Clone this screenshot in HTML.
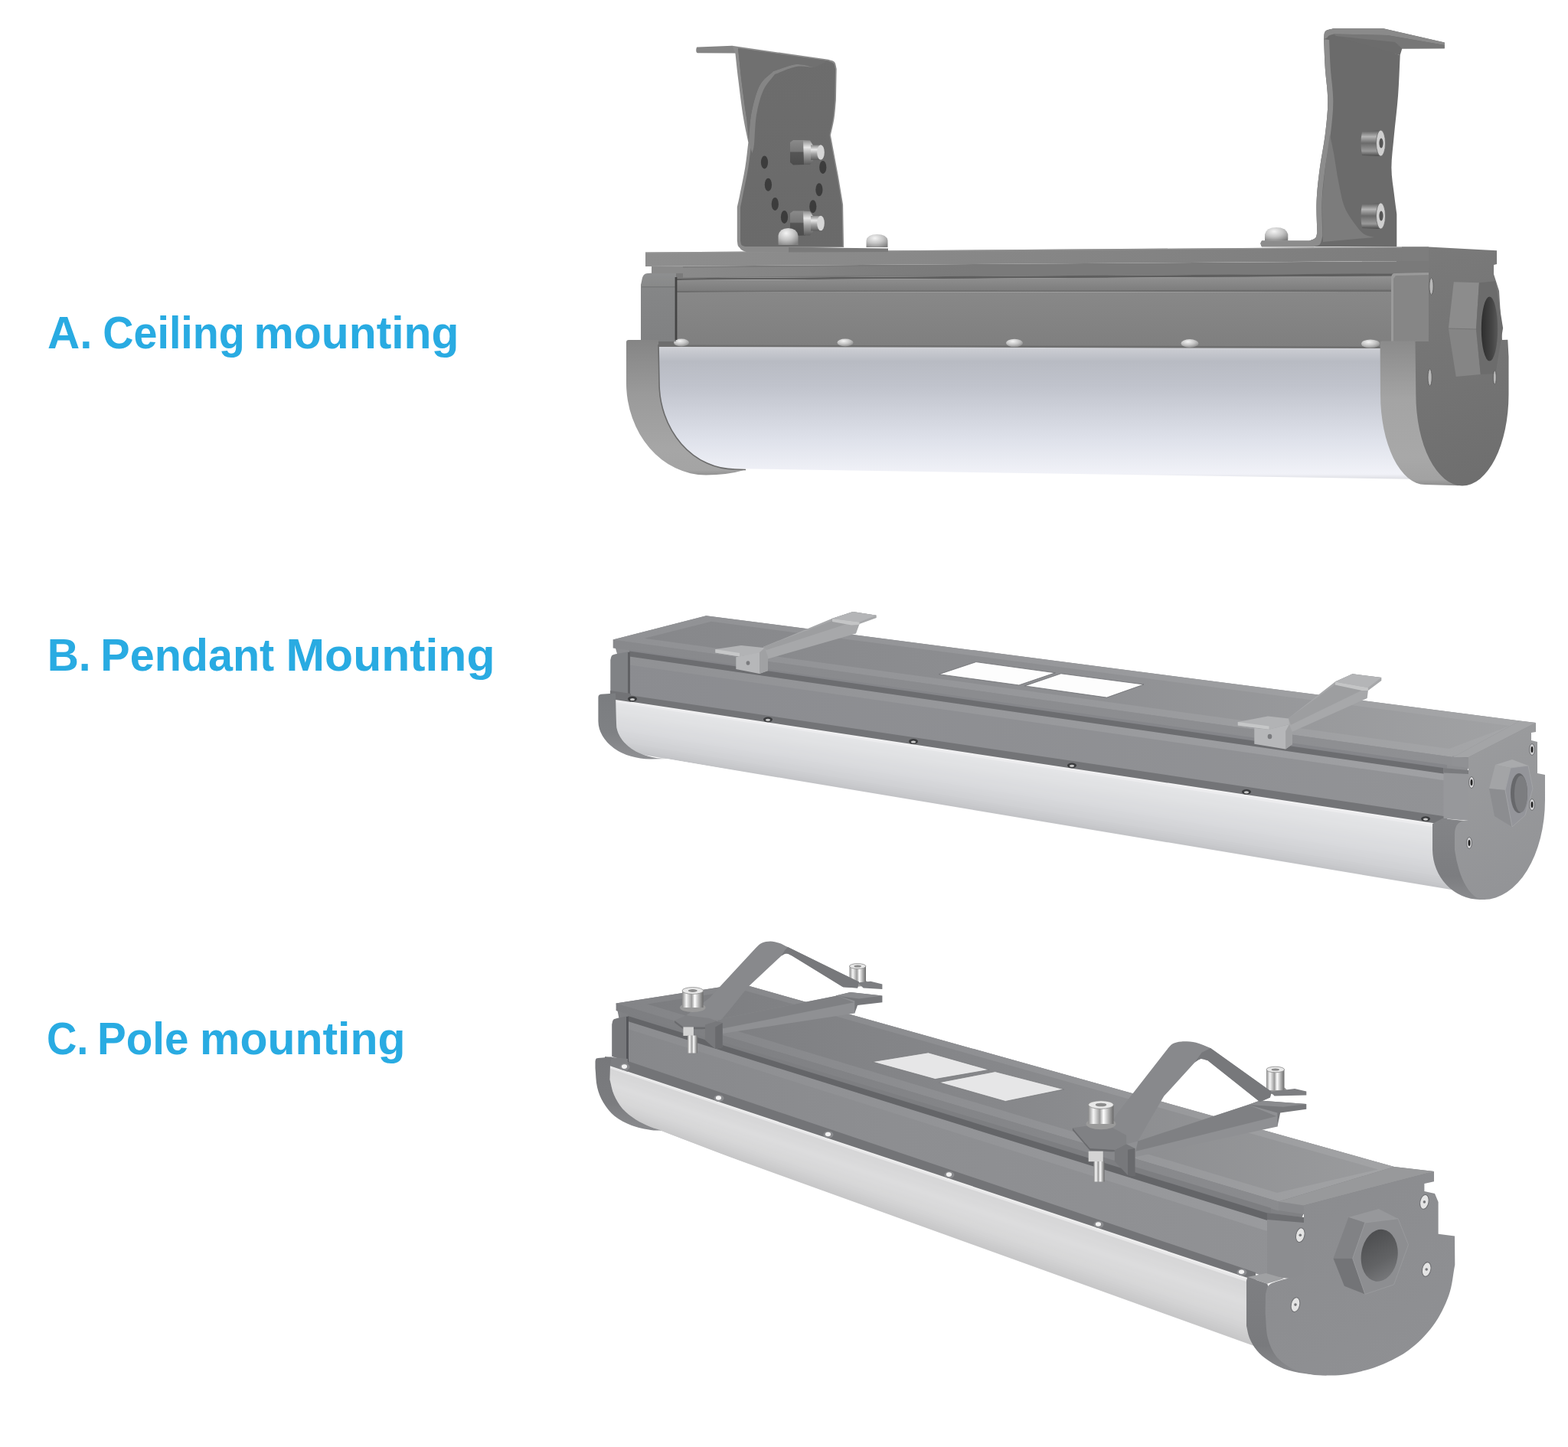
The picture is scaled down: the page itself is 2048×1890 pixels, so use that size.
<!DOCTYPE html>
<html lang="en">
<head>
<meta charset="utf-8">
<title>Mounting options</title>
<style>
html,body{margin:0;padding:0;background:#fff;}
body{width:2048px;height:1890px;overflow:hidden;position:relative;font-family:"Liberation Sans",sans-serif;}
svg{position:absolute;left:0;top:0;display:block;}
.lbl{font-family:"Liberation Sans",sans-serif;font-weight:700;font-size:60px;fill:#29abe2;}
</style>
</head>
<body>
<svg width="2048" height="1890" viewBox="0 0 2048 1890">
<g id="labels">
<text class="lbl" y="454.6"><tspan x="62" textLength="58.5" lengthAdjust="spacingAndGlyphs">A.</tspan> <tspan x="134.3" textLength="185.5" lengthAdjust="spacingAndGlyphs">Ceiling</tspan> <tspan x="331.5" textLength="268" lengthAdjust="spacingAndGlyphs">mounting</tspan></text>
<text class="lbl" y="876.1"><tspan x="61.7" textLength="57" lengthAdjust="spacingAndGlyphs">B.</tspan> <tspan x="131.3" textLength="227" lengthAdjust="spacingAndGlyphs">Pendant</tspan> <tspan x="373.5" textLength="273" lengthAdjust="spacingAndGlyphs">Mounting</tspan></text>
<text class="lbl" y="1376.8"><tspan x="61" textLength="54.5" lengthAdjust="spacingAndGlyphs">C.</tspan> <tspan x="127" textLength="119.5" lengthAdjust="spacingAndGlyphs">Pole</tspan> <tspan x="261" textLength="268.5" lengthAdjust="spacingAndGlyphs">mounting</tspan></text>
</g>
<!-- ================= PRODUCT A : ceiling mounting ================= -->
<g id="prodA">
<defs>
<linearGradient id="aDiff" gradientUnits="userSpaceOnUse" x1="0" y1="451" x2="0" y2="626"><stop offset="0" stop-color="#d6d7db"/><stop offset="0.04" stop-color="#c8cad0"/><stop offset="0.12" stop-color="#b8bbc3"/><stop offset="0.3" stop-color="#c0c3cc"/><stop offset="0.5" stop-color="#cfd2db"/><stop offset="0.7" stop-color="#dee1ea"/><stop offset="0.85" stop-color="#e9ebf2"/><stop offset="0.96" stop-color="#f1f2f8"/><stop offset="1" stop-color="#dcdde2"/></linearGradient>
<linearGradient id="aPlate" gradientUnits="userSpaceOnUse" x1="843" y1="0" x2="1866" y2="0"><stop offset="0" stop-color="#8e8e8e"/><stop offset="0.5" stop-color="#868686"/><stop offset="1" stop-color="#7c7c7c"/></linearGradient>
<linearGradient id="aBody" gradientUnits="userSpaceOnUse" x1="0" y1="381" x2="0" y2="453"><stop offset="0" stop-color="#888888"/><stop offset="1" stop-color="#7f7f7f"/></linearGradient>
<linearGradient id="aRail" gradientUnits="userSpaceOnUse" x1="0" y1="362" x2="0" y2="380"><stop offset="0" stop-color="#909090"/><stop offset="1" stop-color="#7c7c7c"/></linearGradient>
<linearGradient id="aRimL" gradientUnits="userSpaceOnUse" x1="0" y1="444" x2="0" y2="621"><stop offset="0" stop-color="#858585"/><stop offset="0.4" stop-color="#9a9a9a"/><stop offset="0.8" stop-color="#a6a6a6"/><stop offset="0.96" stop-color="#a4a4a4"/><stop offset="1" stop-color="#909090"/></linearGradient>
<linearGradient id="aRimR" gradientUnits="userSpaceOnUse" x1="0" y1="446" x2="0" y2="634"><stop offset="0" stop-color="#8b8b8b"/><stop offset="0.4" stop-color="#a4a4a4"/><stop offset="0.8" stop-color="#a8a8a8"/><stop offset="0.96" stop-color="#a2a2a2"/><stop offset="1" stop-color="#8e8e8e"/></linearGradient>
<linearGradient id="aFace" gradientUnits="userSpaceOnUse" x1="1850" y1="322" x2="1970" y2="634"><stop offset="0" stop-color="#7a7a7a"/><stop offset="1" stop-color="#6e6e6e"/></linearGradient>
<linearGradient id="aEndL" gradientUnits="userSpaceOnUse" x1="0" y1="356" x2="0" y2="446"><stop offset="0" stop-color="#8e8f90"/><stop offset="0.2" stop-color="#888989"/><stop offset="0.22" stop-color="#858687"/><stop offset="1" stop-color="#808182"/></linearGradient>
<linearGradient id="aStrip" gradientUnits="userSpaceOnUse" x1="892" y1="0" x2="1300" y2="0"><stop offset="0" stop-color="#8a8a8a" stop-opacity="1"/><stop offset="0.4" stop-color="#868686" stop-opacity="0.8"/><stop offset="1" stop-color="#7a7a7a" stop-opacity="0"/></linearGradient>
<linearGradient id="aHole" gradientUnits="userSpaceOnUse" x1="1935" y1="0" x2="1957" y2="0"><stop offset="0" stop-color="#2e2e2e"/><stop offset="0.6" stop-color="#444"/><stop offset="1" stop-color="#5a5a5a"/></linearGradient>
<linearGradient id="aBrk" gradientUnits="userSpaceOnUse" x1="0" y1="60" x2="0" y2="325"><stop offset="0" stop-color="#6d6d6d"/><stop offset="1" stop-color="#6a6a6a"/></linearGradient>
<linearGradient id="steelV" x1="0" y1="0" x2="0" y2="1"><stop offset="0" stop-color="#8a8a8a"/><stop offset="0.3" stop-color="#e8e8e8"/><stop offset="0.6" stop-color="#a0a0a0"/><stop offset="1" stop-color="#5c5c5c"/></linearGradient>
<linearGradient id="nutV" x1="0" y1="0" x2="0" y2="1"><stop offset="0" stop-color="#8a8a8a"/><stop offset="0.45" stop-color="#777"/><stop offset="0.5" stop-color="#555"/><stop offset="1" stop-color="#4c4c4c"/></linearGradient>
<radialGradient id="dome" cx="0.4" cy="0.3" r="0.8"><stop offset="0" stop-color="#f4f4f4"/><stop offset="0.5" stop-color="#c4c4c4"/><stop offset="1" stop-color="#808080"/></radialGradient>
<linearGradient id="sockV" x1="0" y1="0" x2="0" y2="1"><stop offset="0" stop-color="#5a5a5a"/><stop offset="0.25" stop-color="#b4b4b4"/><stop offset="0.5" stop-color="#6a6a6a"/><stop offset="0.8" stop-color="#9a9a9a"/><stop offset="1" stop-color="#4a4a4a"/></linearGradient>
</defs>
<path d="M850,451 L1812,453 L1860,626 L920,611.5 L850,580 L850,451 Z" fill="url(#aDiff)" />
<path d="M843,329.6 L1831,322.4 L1866,322.4 L1866,341 L1831,341 L843,348 L843,329.6 Z" fill="url(#aPlate)" />
<path d="M843,329.6 L1866,322.4 L1866,323.6 L843,330.8 L843,329.6 Z" fill="#9a9a9a" opacity="0.7"/>
<path d="M851,348 L1866,341 L1866,357.5 L851,363.5 L851,348 Z" fill="#7a7a7a" />
<path d="M892,349.5 L1300,347 L1300,357.5 L892,362.5 L892,349.5 Z" fill="url(#aStrip)" />
<path d="M884,363.3 L1820,357.3 L1820,361 L884,366 L884,363.3 Z" fill="#5e5e5e" />
<path d="M884,366 L1820,360.5 L1820,379.5 L884,380.5 L884,366 Z" fill="url(#aRail)" />
<path d="M884,380 L1820,378.5 L1820,381 L884,382 L884,380 Z" fill="#6c6c6c" />
<path d="M884,382 L1820,381 L1820,454 L884,452 L884,382 Z" fill="url(#aBody)" />
<path d="M884,450.5 L1820,452.5 L1810,455 L884,453 L884,450.5 Z" fill="#6f6f6f" />
<path d="M858,443.5 L886,443.5 L886,453 L858,453 L858,443.5 Z" fill="#6e6e6e" />
<g fill="url(#dome)">
<ellipse cx="890" cy="447.5" rx="10" ry="5"/>
<ellipse cx="1104" cy="447.5" rx="10.5" ry="5"/>
<ellipse cx="1325" cy="448" rx="11" ry="5.2"/>
<ellipse cx="1554" cy="448.5" rx="11.5" ry="5.4"/>
<ellipse cx="1790" cy="449" rx="12" ry="5.6"/>
</g>
<path d="M883,356 L852,356.5 C848.3,357.3 843.5,356.4 841,359 C838.5,361.6 838.3,367.7 837,372 L837,446 L883,446 L883,356 Z" fill="url(#aEndL)" />
<path d="M838,374 L882,374 L882,375.5 L838,375.5 L838,374 Z" fill="#777879" />
<path d="M851,348 L892,348 L892,357 L851,357 L851,348 Z" fill="#8a8a8a" />
<path d="M881.6,362 L884.4,362 L884.4,444 L881.6,444 L881.6,362 Z" fill="#444444" />
<path d="M818,447 Q818,444 821,444 L860,444 L861,500 A99,113 0 0 0 960,613 L974,613.5 Q950,620.5 922,620.5 A104,120.5 0 0 1 818,500 Z" fill="url(#aRimL)"/>
<path d="M860,450 L861,500 A99,113 0 0 0 960,613 L974,613.5" fill="none" stroke="#6b6b6b" stroke-width="1.6"/>
<path d="M1831,322.4 L1866,322.4 L1866,341 L1831,341 L1831,322.4 Z" fill="#7d7d7d" />
<path d="M1824,341 L1866,341 L1866,358 L1824,357 L1824,341 Z" fill="#7a7a7a" />
<path d="M1817,362 C1817.7,360.7 1818,358.8 1819,358 C1820,357.2 1821.7,357.3 1823,357 L1869,356 L1869,446 L1817,446 L1817,362 Z" fill="#868686" />
<path d="M1817,362 C1817.7,360.7 1818,358.8 1819,358 C1820,357.2 1821.7,357.3 1823,357 L1869,356 L1869,359 L1823,360 L1820,364 L1820,446 L1817,446 L1817,362 Z" fill="#9a9a9a" />
<path d="M1802.6,448 Q1802.6,445.5 1805,445.5 L1850,445.5 L1850,515 L1880,600 L1905,634.3 L1861,633 A58,118 0 0 1 1803,515 Z" fill="url(#aRimR)"/>
<path d="M1866,322.4 L1955,327.3 L1955,345 L1951,346 L1951,358 L1958,380 L1962,444 L1969.3,443.7 L1970.5,466 L1970.5,515 A60.6,119.5 0 0 1 1849.3,515 L1848.5,446 L1866,446 Z" fill="url(#aFace)"/>
<path d="M1898.8,368.2 L1931.9,369.2 L1928,429.6 L1891.9,428.6 L1898.8,368.2 Z" fill="#8c8c8c" />
<path d="M1891.9,429.6 L1928,430.6 L1933.8,489 L1901.7,491.9 L1891.9,429.6 Z" fill="#858585" />
<path d="M1931.9,369.2 L1953.3,367.2 L1963.1,428.6 L1953.3,488 L1933.8,489 L1928,429.6 L1931.9,369.2 Z" fill="#6c6c6c" />
<ellipse cx="1945.5" cy="429.6" rx="10.7" ry="42" fill="url(#aHole)"/>
<g fill="#b8b8b8" stroke="#555" stroke-width="0.8"><ellipse cx="1869.5" cy="374" rx="2.6" ry="11"/><ellipse cx="1867.6" cy="493" rx="2.6" ry="11"/><ellipse cx="1952.3" cy="493" rx="2" ry="9"/></g>
<path d="M909.2,65 C909.5,64 909.5,62.6 910,62 C910.5,61.4 911.3,61.7 912,61.6 L956.3,59.8 L964,64 L961,69.6 L911,69.3 C910.5,68.9 909.9,68.7 909.6,68 C909.3,67.3 909.3,66 909.2,65 Z" fill="#858585" />
<path d="M956.3,59.8 L1082,77.8 C1084.7,78.9 1088.2,79 1090,81 C1091.8,83 1091.8,87 1092.7,90 L1091.9,130.9 C1091.1,138.9 1090.7,147.4 1089.5,155 C1088.3,162.6 1086.4,169.3 1084.9,176.4 C1088,193.2 1091.6,211.5 1094.3,226.7 C1097,241.8 1098.8,253.8 1101.1,267.3 L1102.1,323 L971,326 C968.8,324.7 965.9,323.9 964.5,322 C963.1,320.1 963.4,316.9 962.8,314.4 L962.8,270.5 C963.9,265.6 964.2,264.6 966,255.9 C967.8,247.2 971.4,230.2 973.3,218.6 C975.2,207 976,196.9 977.4,186.1 C975.2,175.3 973.1,167.1 970.9,153.6 C968.7,140.1 966.1,118.9 964.4,104.9 C962.6,90.9 961.7,81.3 960.4,69.5 L956.3,59.8 Z" fill="#8c8c8c" />
<path d="M964,63 L1082,79.5 C1084.3,80.7 1087.5,81.2 1089,83 C1090.5,84.8 1090.3,87.7 1091,90 L1090.4,130.9 C1089.6,138.9 1089.2,147.4 1088,155 C1086.8,162.6 1084.9,169.3 1083.4,176.4 C1086.5,193.2 1090.1,211.5 1092.8,226.7 C1095.5,241.8 1097.3,253.8 1099.6,267.3 L1100.6,322 L973,322 C971.5,321.3 969.5,321.3 968.5,320 C967.5,318.7 967.5,316.3 967,314.4 L967,271 C968,266 968.3,264.7 970,256 C971.7,247.3 975.4,230.7 977.3,219 C979.2,207.3 980,197.1 981.4,186.1 C979.3,175.3 977.2,167.1 975,153.6 C972.8,140.1 970.2,120 968.4,104.9 C966.6,89.8 965.5,77 964,63 Z" fill="url(#aBrk)" />
<path d="M978,186 C979,174 978.7,162.3 981,150 C983.3,137.7 987.2,121.5 992,112 C996.8,102.5 1004,99.3 1010,93 C1020,90 1031,84.8 1040,84 C1049,83.2 1056,86.7 1064,88 C1056,87.7 1048.7,85.5 1040,87 C1031.3,88.5 1021.3,93.7 1012,97 C1007,104 1001,109.2 997,118 C993,126.8 990,138.3 988,150 C986,161.7 985.9,179.7 985,188 C984.1,196.3 983.3,196 982.5,200 L978,186 Z" fill="#858585" />
<path d="M964,63 L1082,79.5 L1064,88 C1056,86.7 1049,83.2 1040,84 C1031,84.8 1020,90 1010,93 C1004,99.3 996.8,102.5 992,112 C987.2,121.5 983.3,137.7 981,150 C978.7,162.3 979,174 978,186 L975,153.6 L968.4,104.9 L964,63 Z" fill="#707070" />
<path d="M971,322 L1032,322 C1032.7,323 1034.3,323.8 1034,325 C1033.7,326.2 1031.3,328 1030,329.5 L976,329.5 C973.3,328.3 969.8,327.6 968,326 C966.2,324.4 966,322 965,320 L971,322 Z" fill="#8a8a8a" />
<path d="M1030,323 L1160,324.5 L1160,329 L1030,329.5 L1030,323 Z" fill="#7a7a7a" />
<g fill="#3c3c3c">
<ellipse cx="998.5" cy="212" rx="4.6" ry="8.5"/>
<ellipse cx="1003.4" cy="241.3" rx="4.6" ry="8.5"/>
<ellipse cx="1012.3" cy="266.5" rx="4.6" ry="8.5"/>
<ellipse cx="1024.5" cy="283.5" rx="4.6" ry="8.5"/>
<ellipse cx="1074.8" cy="218.6" rx="4.6" ry="8.5"/>
<ellipse cx="1069.9" cy="247.8" rx="4.6" ry="8.5"/>
<ellipse cx="1061.8" cy="269.7" rx="4.6" ry="8.5"/>
</g>
<g transform="translate(0,0)">
<path d="M1032,186 L1036,183 L1050,183 L1052,215 L1036,215.5 L1032,212 Z" fill="url(#nutV)"/>
<path d="M1049,183 L1058,183.5 L1062,190 L1062,210 L1058,215 L1050,215 Z" fill="url(#steelV)"/>
<rect x="1059" y="189.5" width="14" height="19.5" fill="url(#steelV)"/>
<ellipse cx="1072" cy="199" rx="4.8" ry="9.8" fill="#d6d6d6"/>
</g>
<g transform="translate(0,92.5)">
<path d="M1032,186 L1036,183 L1050,183 L1052,215 L1036,215.5 L1032,212 Z" fill="url(#nutV)"/>
<path d="M1049,183 L1058,183.5 L1062,190 L1062,210 L1058,215 L1050,215 Z" fill="url(#steelV)"/>
<rect x="1059" y="189.5" width="14" height="19.5" fill="url(#steelV)"/>
<ellipse cx="1072" cy="199" rx="4.8" ry="9.8" fill="#d6d6d6"/>
</g>
<path d="M1016.5,320 L1016.5,308 Q1018,298 1029.5,298 Q1041,298 1042.5,308 L1042.5,320 Z" fill="url(#dome)"/>
<path d="M1131.5,323 L1131.5,314 Q1133,306 1145.5,306 Q1158,306 1159.5,314 L1159.5,323 Z" fill="url(#dome)"/>
<path d="M1729.1,51.2 C1729.7,47.8 1729,43.3 1731,41 C1733,38.7 1737.8,38.5 1741.2,37.3 L1807,37.3 L1886.7,55.5 L1886.7,63.3 L1831.3,63.6 L1828.7,72 L1729.1,51.2 Z" fill="#6c6c6c" />
<path d="M1741.2,37.3 L1807,37.3 L1886.7,55.5 L1886.7,59 L1812,46 L1742,44.5 C1739.7,45.3 1736.5,45.8 1735,47 C1733.5,48.2 1733.7,50.3 1733,52 L1729.1,51.2 C1729.7,47.8 1729,43.3 1731,41 C1733,38.7 1737.8,38.5 1741.2,37.3 Z" fill="#8a8a8a" />
<path d="M1742,44.5 L1812,46 L1886.7,59 L1886.7,63.3 L1831.3,63.6 L1822,55 L1745,47 L1742,44.5 Z" fill="#777" />
<path d="M1729.1,51.2 C1729.7,63.9 1729.9,75.7 1730.8,89.3 C1731.7,102.9 1734.3,118.2 1734.3,132.6 C1734.3,147 1732.5,161.4 1730.8,175.8 C1729.1,190.2 1725.8,204.7 1723.9,219.1 C1722,233.5 1720.2,248.2 1719.6,262.4 C1719,276.5 1720.1,290.1 1720.4,304 C1719.6,306.3 1719.7,309.3 1718,311 C1716.3,312.7 1712.7,313.3 1710,314.4 L1648,314.4 C1647.5,315.6 1646.5,316.7 1646.5,318 C1646.5,319.3 1647.5,320.8 1648,322.2 L1824.3,322.2 L1824.3,279.7 C1823.2,271.1 1822.1,263.9 1820.9,253.8 C1819.8,243.7 1817.4,232.1 1817.4,219.1 C1817.4,206.1 1819.5,191.7 1820.9,175.8 C1822.4,159.9 1824.8,141.2 1826.1,123.9 C1827.4,106.6 1827.8,89.3 1828.7,72 L1740,46 L1729.1,51.2 Z" fill="#6b6b6b" />
<path d="M1729.1,51.2 C1729.7,63.9 1729.9,75.7 1730.8,89.3 C1731.7,102.9 1734.3,118.2 1734.3,132.6 C1734.3,147 1732.5,161.4 1730.8,175.8 C1729.1,190.2 1725.8,204.7 1723.9,219.1 C1722,233.5 1720.2,248.2 1719.6,262.4 C1719,276.5 1720.1,290.1 1720.4,304 C1719.6,306.3 1719.7,309.3 1718,311 C1716.3,312.7 1712.7,313.3 1710,314.4 L1648,314.4 C1647.5,315.6 1646.5,316.7 1646.5,318 C1646.5,319.3 1647.5,320.8 1648,322.2 L1716,322.2 C1718.7,321.1 1722.1,321.4 1724,319 C1725.9,316.6 1726.3,311.7 1727.4,308 C1727.1,292.8 1726,277.2 1726.6,262.4 C1727.2,247.6 1729,233.5 1730.9,219.1 C1732.8,204.7 1736.1,190.2 1737.8,175.8 C1739.5,161.4 1741.3,147 1741.3,132.6 C1741.3,118.2 1738.7,102.7 1737.8,89.3 C1736.9,75.9 1736.6,64.4 1736,52 L1729.1,51.2 Z" fill="#8c8c8c" />
<path d="M1737,176 C1738.7,184 1740.2,190 1742,200 C1743.8,210 1745.7,224.3 1748,236 C1750.3,247.7 1752.3,260.5 1756,270 C1759.7,279.5 1765.7,287 1770,293 C1774.3,299 1777.8,303.2 1782,306 C1786.2,308.8 1790.7,308.7 1795,310 L1728,316 L1726.6,262.4 L1730.9,219.1 L1737,176 Z" fill="#7c7c7c" />
<g transform="translate(0,0)">
<path d="M1779,172 Q1776,187 1779,203 L1803,204 L1803,170 Z" fill="url(#sockV)"/>
<ellipse cx="1803.5" cy="187" rx="6" ry="17" fill="#cfcfcf" stroke="#6a6a6a" stroke-width="0.8"/>
<ellipse cx="1804" cy="187" rx="2.6" ry="6.5" fill="#555"/>
</g>
<g transform="translate(0,95)">
<path d="M1779,172 Q1776,187 1779,203 L1803,204 L1803,170 Z" fill="url(#sockV)"/>
<ellipse cx="1803.5" cy="187" rx="6" ry="17" fill="#cfcfcf" stroke="#6a6a6a" stroke-width="0.8"/>
<ellipse cx="1804" cy="187" rx="2.6" ry="6.5" fill="#555"/>
</g>
<path d="M1652,314.5 L1652,306 Q1654,297 1667,297 Q1680,297 1682.3,306 L1682.3,314.5 Z" fill="url(#dome)"/>
</g>
<!-- ================= PRODUCT B : pendant mounting ================= -->
<g id="prodB">
<defs>
<linearGradient id="bTop" gradientUnits="userSpaceOnUse" x1="800" y1="0" x2="2000" y2="0"><stop offset="0" stop-color="#86878a"/><stop offset="0.5" stop-color="#8e8f92"/><stop offset="1" stop-color="#a2a3a5"/></linearGradient>
<linearGradient id="bFrame" gradientUnits="userSpaceOnUse" x1="800" y1="0" x2="2000" y2="0"><stop offset="0" stop-color="#909194"/><stop offset="0.5" stop-color="#97989b"/><stop offset="1" stop-color="#a6a7a9"/></linearGradient>
<linearGradient id="bFront" gradientUnits="userSpaceOnUse" x1="800" y1="0" x2="1900" y2="0"><stop offset="0" stop-color="#88898c"/><stop offset="1" stop-color="#8f9093"/></linearGradient>
<linearGradient id="bRail" gradientUnits="userSpaceOnUse" x1="800" y1="0" x2="1900" y2="0"><stop offset="0" stop-color="#909194"/><stop offset="1" stop-color="#a0a1a4"/></linearGradient>
<linearGradient id="bBody" gradientUnits="userSpaceOnUse" x1="800" y1="0" x2="1900" y2="0"><stop offset="0" stop-color="#8b8c90"/><stop offset="1" stop-color="#929396"/></linearGradient>
<linearGradient id="bDiff" gradientUnits="userSpaceOnUse" x1="1300" y1="986" x2="1287" y2="1064"><stop offset="0" stop-color="#e9eaeb"/><stop offset="0.08" stop-color="#f2f2f3"/><stop offset="0.16" stop-color="#dcdde0"/><stop offset="0.4" stop-color="#d3d4d7"/><stop offset="0.65" stop-color="#dddee0"/><stop offset="0.85" stop-color="#ebebed"/><stop offset="1" stop-color="#f6f6f7"/></linearGradient>
<linearGradient id="bRimL" gradientUnits="userSpaceOnUse" x1="0" y1="907" x2="0" y2="992"><stop offset="0" stop-color="#7b7d80"/><stop offset="0.6" stop-color="#7f8184"/><stop offset="1" stop-color="#909194"/></linearGradient>
<linearGradient id="bFaceR" gradientUnits="userSpaceOnUse" x1="1900" y1="950" x2="2010" y2="1170"><stop offset="0" stop-color="#9b9c9e"/><stop offset="1" stop-color="#929396"/></linearGradient>
<linearGradient id="bRimR" gradientUnits="userSpaceOnUse" x1="0" y1="1072" x2="0" y2="1175"><stop offset="0" stop-color="#838487"/><stop offset="0.7" stop-color="#7c7d80"/><stop offset="1" stop-color="#8a8b8e"/></linearGradient>
</defs>
<clipPath id="bDiffClip"><path d="M804,908 L1900,1074 L1900,1172 L871,991 A66,46 0 0 1 805,945 Z"/></clipPath>
<g clip-path="url(#bDiffClip)">
<path d="M800,912.1 L1897,1077.9 L1897,1081.8 L800,915.4 Z" fill="#f2f2f3"/>
<path d="M800,914.5 L1897,1080.9 L1897,1084.9 L800,917.8 Z" fill="#ececee"/>
<path d="M800,916.9 L1897,1084 L1897,1087.9 L800,920.2 Z" fill="#e4e5e7"/>
<path d="M800,919.3 L1897,1087 L1897,1090.9 L800,922.6 Z" fill="#e3e4e6"/>
<path d="M800,921.7 L1897,1090 L1897,1093.9 L800,925 Z" fill="#e2e3e5"/>
<path d="M800,924.1 L1897,1093 L1897,1096.9 L800,927.4 Z" fill="#e1e2e4"/>
<path d="M800,926.5 L1897,1096 L1897,1099.9 L800,929.8 Z" fill="#e1e2e4"/>
<path d="M800,928.9 L1897,1099 L1897,1102.9 L800,932.2 Z" fill="#e0e1e3"/>
<path d="M800,931.3 L1897,1102 L1897,1106 L800,934.6 Z" fill="#dfe0e2"/>
<path d="M800,933.7 L1897,1105.1 L1897,1109 L800,937 Z" fill="#dedfe1"/>
<path d="M800,936.1 L1897,1108.1 L1897,1112 L800,939.4 Z" fill="#dddee0"/>
<path d="M800,938.5 L1897,1111.1 L1897,1115 L800,941.8 Z" fill="#dcdde0"/>
<path d="M800,940.9 L1897,1114.1 L1897,1118 L800,944.2 Z" fill="#dbdcdf"/>
<path d="M800,943.3 L1897,1117.1 L1897,1121 L800,946.6 Z" fill="#dbdcde"/>
<path d="M800,945.7 L1897,1120.1 L1897,1124 L800,949 Z" fill="#dadbde"/>
<path d="M800,948.1 L1897,1123.1 L1897,1127.1 L800,951.4 Z" fill="#d9dadd"/>
<path d="M800,950.5 L1897,1126.2 L1897,1130.1 L800,953.8 Z" fill="#d8d9dc"/>
<path d="M800,952.9 L1897,1129.2 L1897,1133.1 L800,956.2 Z" fill="#d6d7da"/>
<path d="M800,955.3 L1897,1132.2 L1897,1136.1 L800,958.6 Z" fill="#d5d6d9"/>
<path d="M800,957.7 L1897,1135.2 L1897,1139.1 L800,961 Z" fill="#d4d5d8"/>
<path d="M800,960.1 L1897,1138.2 L1897,1142.1 L800,963.4 Z" fill="#d2d3d6"/>
<path d="M800,962.5 L1897,1141.2 L1897,1145.2 L800,965.8 Z" fill="#d1d2d5"/>
<path d="M800,964.9 L1897,1144.3 L1897,1148.2 L800,968.2 Z" fill="#d0d1d4"/>
<path d="M800,967.3 L1897,1147.3 L1897,1151.2 L800,970.6 Z" fill="#cdced1"/>
<path d="M800,969.7 L1897,1150.3 L1897,1154.2 L800,973 Z" fill="#cbcccf"/>
<path d="M800,972.1 L1897,1153.3 L1897,1157.2 L800,975.4 Z" fill="#c9cacd"/>
<path d="M800,974.5 L1897,1156.3 L1897,1160.2 L800,977.8 Z" fill="#c6c7ca"/>
<path d="M800,976.9 L1897,1159.3 L1897,1162.3 L800,979.3 Z" fill="#c3c4c7"/>
</g>
<path d="M800.7,835.5 L922.3,804.2 L1985,941.5 L2006,944 L1918,1003 L1890,1070 L822,910 L800.7,835.5 Z" fill="#8c8d90" />
<path d="M800.7,835.5 L922.3,804.2 L1985,941.5 L1898,989 L800.7,835.5 Z" fill="url(#bFrame)" />
<path d="M841.6,833.8 L929,811.8 L1972,948 L1893,978 L841.6,833.8 Z" fill="url(#bTop)" />
<path d="M800.7,835.5 L1898,989 L1898,1000.8 L800.7,846.5 L800.7,835.5 Z" fill="url(#bFront)" />
<path d="M822,848.7 L1890,998.9 L1890,1004.5 L822,851.3 L822,848.7 Z" fill="#85868a" />
<path d="M822,850.5 L1890,1003.7 L1890,1012 L822,858.3 L822,850.5 Z" fill="#6c6d70" />
<path d="M822,857.5 L1890,1011.2 L1890,1020.5 L822,869.3 L822,857.5 Z" fill="url(#bRail)" />
<path d="M822,868.5 L1890,1019.7 L1890,1067.5 L822,908.8 L822,868.5 Z" fill="url(#bBody)" />
<path d="M822,908 L1890,1066.7 L1890,1077.7 L822,916.2 L822,908 Z" fill="#737477" />
<path d="M797.3,862 C797.9,860.2 798,857.8 799,856.5 C800,855.2 801.7,855.2 803,854.5 L822,851 L822,907 L797.3,904 L797.3,862 Z" fill="#808285" />
<path d="M820,852 L823,852 L823,908 L820,908 L820,852 Z" fill="#606164" />
<path d="M797,902 L824,906 L824,917 L804,914 L797,910 L797,902 Z" fill="#727376" />
<path d="M781.4,911 Q781.4,907 785,906.7 L804,905.5 L805,945 A66,46 0 0 0 871,991 L850,991.5 A68,50 0 0 1 781.4,942 Z" fill="url(#bRimL)"/>
<path d="M1897,987.5 L1918,990.5 L1918,1003 L1897,1000.5 L1897,987.5 Z" fill="#909194" />
<path d="M1885.5,1003 L1918,1006 L1918,1072 L1885.5,1069 L1885.5,1003 Z" fill="#97989b" />
<path d="M1885.5,1003 L1918,1006 L1918,1011 L1885.5,1009.5 L1885.5,1003 Z" fill="#7a7b7e" />
<path d="M1898,989 L1985,941.5 L2006,944 L1918,989 L1898,989 Z" fill="#a4a5a7" />
<path d="M1871,1076 L1871,1110 A62,66 0 0 0 1933,1175 L1940,1175 L1912,1072 L1884,1069 Z" fill="url(#bRimR)"/>
<path d="M1918,989 L2006,944 L2006,956 L2000,957 L2000,967 L2008,969 L2008,1010 L2018,1012 L2018,1045 A80,130 0 0 1 1938,1175 A40,95 0 0 1 1900,1110 L1900,1090 Q1900,1074 1912,1072 L1918,1072 Z" fill="url(#bFaceR)"/>
<path d="M1953,999 L1975,992 L1996,1000 L1973,1003 L1953,999 Z" fill="#a9aaac" />
<path d="M1953,999 L1973,1003 L1966,1032 L1945,1030 L1953,999 Z" fill="#a3a4a6" />
<path d="M1945,1030 L1966,1032 L1975,1080 L1952,1066 L1945,1030 Z" fill="#8c8d90" />
<path d="M1973,1003 L1996,1000 L2002,1030 L1992,1065 L1975,1080 L1966,1032 L1973,1003 Z" fill="#94959a" stroke="#a6a7a9" stroke-width="0.8"/>
<ellipse cx="1984" cy="1036" rx="11" ry="26" fill="#67686b"/>
<ellipse cx="1986.5" cy="1037" rx="8.5" ry="24" fill="#7c7d80"/>
<ellipse cx="1922" cy="1022" rx="3.4" ry="7.5" fill="#d2d2d4" stroke="#5c5d60" stroke-width="0.8"/><ellipse cx="1922" cy="1022" rx="1.5" ry="4" fill="#222"/>
<ellipse cx="2001" cy="979" rx="3.4" ry="7.5" fill="#d2d2d4" stroke="#5c5d60" stroke-width="0.8"/><ellipse cx="2001" cy="979" rx="1.5" ry="4" fill="#222"/>
<ellipse cx="2001" cy="1051" rx="3.4" ry="7.5" fill="#d2d2d4" stroke="#5c5d60" stroke-width="0.8"/><ellipse cx="2001" cy="1051" rx="1.5" ry="4" fill="#222"/>
<ellipse cx="1919" cy="1101" rx="3.4" ry="7.5" fill="#d2d2d4" stroke="#5c5d60" stroke-width="0.8"/><ellipse cx="1919" cy="1101" rx="1.5" ry="4" fill="#222"/>
<path d="M1226.5,880.7 L1274.9,864.6 L1378.3,878.8 L1330.8,894.9 L1226.5,880.7 Z" fill="#fdfdfd" stroke="#6a6b6e" stroke-width="0.8"/>
<path d="M1338.4,895.9 L1385.8,879.8 L1494,894 L1445.6,911.1 L1338.4,895.9 Z" fill="#fdfdfd" stroke="#6a6b6e" stroke-width="0.8"/>
<g transform="translate(0,0)">
<path d="M996.7,845.1 L1086.5,808 L1114,799 L1144.7,803.8 L1144.7,807 L1122.5,815 L1118,827.5 L998,862 L996.7,845.1 Z" fill="#a7a8aa" />
<path d="M996.7,845.1 L1086.5,811 L1086.5,808 L1114,799 L1144.7,803.8 L1122.5,812.5 L1112,813 L1001,849 L996.7,845.1 Z" fill="#9d9ea0" />
<path d="M1087,808 L1114,799 L1144.7,803.8 L1122.5,812.5 L1087,808 Z" fill="#b4b5b7" />
<path d="M1087,808 L1122.5,812.5 L1122.5,816 L1112,816.5 L1087,812 L1087,808 Z" fill="#c4c5c6" />
<path d="M934.4,848.1 L968,843 L997,846 L998,852 L966,857.5 L934.4,852.5 L934.4,848.1 Z" fill="#b2b3b5" />
<path d="M934.4,848.1 L966,853 L966,857.5 L934.4,852.5 L934.4,848.1 Z" fill="#c6c7c8" />
<path d="M961.3,858.3 L992,852.3 L999,857 L1003,876 L992,880 L961.3,874 L961.3,858.3 Z" fill="#b6b7b9" />
<path d="M992,852.3 L999,846 L1003,858 L1003,876 L992,880 L992,852.3 Z" fill="#a0a1a3" />
<ellipse cx="977" cy="866" rx="2.4" ry="2.8" fill="#7a7b7e"/>
</g>
<path d="M1682.7,938.3 L1743.8,890.4 L1766.5,880.2 L1804.3,885 L1804.3,889 L1786.9,902 L1785.7,912 L1684,957.5 L1682.7,938.3 Z" fill="#a7a8aa" />
<path d="M1682.7,938.3 L1743.8,894 L1743.8,890.4 L1766.5,880.2 L1804.3,885 L1786.9,898.2 L1779.7,901.2 L1686,946.7 L1682.7,938.3 Z" fill="#9d9ea0" />
<path d="M1743.8,890.4 L1766.5,880.2 L1804.3,885 L1786.9,898.2 L1743.8,890.4 Z" fill="#b4b5b7" />
<path d="M1743.8,890.4 L1786.9,898.2 L1786.9,902 L1779,902 L1743.8,894.5 L1743.8,890.4 Z" fill="#c4c5c6" />
<path d="M1616.8,943.1 L1656,935.5 L1683,938.5 L1684,946 L1657.5,952.7 L1616.8,947.5 L1616.8,943.1 Z" fill="#b2b3b5" />
<path d="M1616.8,943.1 L1657.5,948.5 L1657.5,952.7 L1616.8,947.5 L1616.8,943.1 Z" fill="#c6c7c8" />
<path d="M1638.3,951 L1657.5,952.7 L1684,946 L1686,958 L1688,972 L1679.1,978.4 L1638.3,971.8 L1638.3,951 Z" fill="#b6b7b9" />
<path d="M1679.1,955 L1684,946 L1688,957 L1688,972 L1679.1,978.4 L1679.1,955 Z" fill="#a0a1a3" />
<ellipse cx="1658.5" cy="962" rx="2.8" ry="3.2" fill="#7a7b7e"/>
<ellipse cx="826" cy="913" rx="6" ry="3.4" fill="#3c3d3f"/><ellipse cx="826" cy="913.5" rx="3" ry="1.6" fill="#c8c8c8"/>
<ellipse cx="1003" cy="939.8" rx="6" ry="3.4" fill="#3c3d3f"/><ellipse cx="1003" cy="940.3" rx="3" ry="1.6" fill="#c8c8c8"/>
<ellipse cx="1193" cy="968.5" rx="6" ry="3.4" fill="#3c3d3f"/><ellipse cx="1193" cy="969" rx="3" ry="1.6" fill="#c8c8c8"/>
<ellipse cx="1400" cy="999.8" rx="6" ry="3.4" fill="#3c3d3f"/><ellipse cx="1400" cy="1000.3" rx="3" ry="1.6" fill="#c8c8c8"/>
<ellipse cx="1628" cy="1034.3" rx="6" ry="3.4" fill="#3c3d3f"/><ellipse cx="1628" cy="1034.8" rx="3" ry="1.6" fill="#c8c8c8"/>
<ellipse cx="1862" cy="1069.6" rx="6" ry="3.4" fill="#3c3d3f"/><ellipse cx="1862" cy="1070.1" rx="3" ry="1.6" fill="#c8c8c8"/>
</g>
<!-- ================= PRODUCT C : pole mounting ================= -->
<g id="prodC">
<defs>
<linearGradient id="cTop" gradientUnits="userSpaceOnUse" x1="800" y1="0" x2="1850" y2="0"><stop offset="0" stop-color="#7b7c7f"/><stop offset="0.5" stop-color="#87888b"/><stop offset="1" stop-color="#9c9d9f"/></linearGradient>
<linearGradient id="cFrame" gradientUnits="userSpaceOnUse" x1="800" y1="0" x2="1850" y2="0"><stop offset="0" stop-color="#838487"/><stop offset="0.5" stop-color="#909194"/><stop offset="1" stop-color="#a4a5a7"/></linearGradient>
<linearGradient id="cFront" gradientUnits="userSpaceOnUse" x1="800" y1="0" x2="1700" y2="0"><stop offset="0" stop-color="#7d7e81"/><stop offset="1" stop-color="#8b8c8f"/></linearGradient>
<linearGradient id="cRail" gradientUnits="userSpaceOnUse" x1="800" y1="0" x2="1700" y2="0"><stop offset="0" stop-color="#8c8d90"/><stop offset="1" stop-color="#9a9b9e"/></linearGradient>
<linearGradient id="cBody" gradientUnits="userSpaceOnUse" x1="800" y1="0" x2="1700" y2="0"><stop offset="0" stop-color="#87888b"/><stop offset="0.4" stop-color="#8d8e91"/><stop offset="1" stop-color="#919295"/></linearGradient>
<linearGradient id="cDiff" gradientUnits="userSpaceOnUse" x1="1200" y1="1527" x2="1172" y2="1612"><stop offset="0" stop-color="#d9dadb"/><stop offset="0.06" stop-color="#f4f4f4"/><stop offset="0.14" stop-color="#d4d5d7"/><stop offset="0.4" stop-color="#dcdddf"/><stop offset="0.65" stop-color="#e6e6e8"/><stop offset="0.85" stop-color="#efeff0"/><stop offset="1" stop-color="#f8f8f8"/></linearGradient>
<linearGradient id="cRimL" gradientUnits="userSpaceOnUse" x1="0" y1="1382" x2="0" y2="1480"><stop offset="0" stop-color="#77787b"/><stop offset="0.6" stop-color="#7b7c7f"/><stop offset="1" stop-color="#8c8d90"/></linearGradient>
<linearGradient id="cFaceR" gradientUnits="userSpaceOnUse" x1="1700" y1="1530" x2="1850" y2="1790"><stop offset="0" stop-color="#8b8c8f"/><stop offset="1" stop-color="#8f9093"/></linearGradient>
<linearGradient id="cRimR" gradientUnits="userSpaceOnUse" x1="0" y1="1670" x2="0" y2="1795"><stop offset="0" stop-color="#7e7f82"/><stop offset="0.7" stop-color="#797a7d"/><stop offset="1" stop-color="#8a8b8e"/></linearGradient>
<linearGradient id="cHole" gradientUnits="userSpaceOnUse" x1="1780" y1="1610" x2="1825" y2="1670"><stop offset="0" stop-color="#4a4b4d"/><stop offset="0.6" stop-color="#626365"/><stop offset="1" stop-color="#7c7d80"/></linearGradient>
<linearGradient id="chrome" x1="0" y1="0" x2="1" y2="0"><stop offset="0" stop-color="#8a8a8a"/><stop offset="0.2" stop-color="#f6f6f6"/><stop offset="0.45" stop-color="#9a9a9a"/><stop offset="0.6" stop-color="#ffffff"/><stop offset="0.8" stop-color="#b0b0b0"/><stop offset="1" stop-color="#6a6a6a"/></linearGradient>
</defs>
<clipPath id="cDiffClip"><path d="M795.5,1388 L1650,1670 L1650,1780 L864,1477 C859.3,1475.3 855.7,1474.5 850,1472 C844.3,1469.5 836.2,1466 830,1462 C823.8,1458 817.7,1453.3 813,1448 C808.3,1442.7 804.8,1436.3 802,1430 C799.2,1423.7 798.3,1416.7 796.5,1410 L795.5,1388 Z"/></clipPath>
<g clip-path="url(#cDiffClip)">
<path d="M790,1388.9 L1640,1671.7 L1640,1675.7 L790,1392.1 Z" fill="#f0f0f0"/>
<path d="M790,1391.2 L1640,1674.8 L1640,1678.8 L790,1394.3 Z" fill="#e7e7e8"/>
<path d="M790,1393.4 L1640,1677.9 L1640,1681.9 L790,1396.6 Z" fill="#d6d6d7"/>
<path d="M790,1395.7 L1640,1681 L1640,1685 L790,1398.9 Z" fill="#d7d7d8"/>
<path d="M790,1398 L1640,1684.1 L1640,1688.1 L790,1401.2 Z" fill="#d7d7d8"/>
<path d="M790,1400.3 L1640,1687.2 L1640,1691.2 L790,1403.4 Z" fill="#d8d8d9"/>
<path d="M790,1402.5 L1640,1690.3 L1640,1694.3 L790,1405.7 Z" fill="#d9d9da"/>
<path d="M790,1404.8 L1640,1693.4 L1640,1697.4 L790,1408 Z" fill="#d9d9da"/>
<path d="M790,1407.1 L1640,1696.5 L1640,1700.5 L790,1410.2 Z" fill="#dadadb"/>
<path d="M790,1409.3 L1640,1699.6 L1640,1703.6 L790,1412.5 Z" fill="#dbdbdc"/>
<path d="M790,1411.6 L1640,1702.7 L1640,1706.7 L790,1414.8 Z" fill="#dcdcdd"/>
<path d="M790,1413.9 L1640,1705.8 L1640,1709.9 L790,1417 Z" fill="#dcdcdd"/>
<path d="M790,1416.1 L1640,1709 L1640,1713 L790,1419.3 Z" fill="#dbdbdc"/>
<path d="M790,1418.4 L1640,1712.1 L1640,1716.1 L790,1421.6 Z" fill="#dadadb"/>
<path d="M790,1420.7 L1640,1715.2 L1640,1719.2 L790,1423.9 Z" fill="#dadadb"/>
<path d="M790,1423 L1640,1718.3 L1640,1722.3 L790,1426.1 Z" fill="#d9d9da"/>
<path d="M790,1425.2 L1640,1721.4 L1640,1725.4 L790,1428.4 Z" fill="#d8d8d9"/>
<path d="M790,1427.5 L1640,1724.5 L1640,1728.5 L790,1430.7 Z" fill="#d8d8d8"/>
<path d="M790,1429.8 L1640,1727.6 L1640,1731.6 L790,1432.9 Z" fill="#d7d7d8"/>
<path d="M790,1432 L1640,1730.7 L1640,1734.7 L790,1435.2 Z" fill="#d6d6d7"/>
<path d="M790,1434.3 L1640,1733.8 L1640,1737.8 L790,1437.5 Z" fill="#d4d4d5"/>
<path d="M790,1436.6 L1640,1736.9 L1640,1740.9 L790,1439.7 Z" fill="#d3d3d4"/>
<path d="M790,1438.8 L1640,1740 L1640,1744 L790,1442 Z" fill="#d1d1d2"/>
<path d="M790,1441.1 L1640,1743.1 L1640,1747.2 L790,1444.3 Z" fill="#cfcfd0"/>
<path d="M790,1443.4 L1640,1746.3 L1640,1750.3 L790,1446.6 Z" fill="#cdcdce"/>
<path d="M790,1445.7 L1640,1749.4 L1640,1753.4 L790,1448.8 Z" fill="#cbcbcc"/>
<path d="M790,1447.9 L1640,1752.5 L1640,1756.5 L790,1451.1 Z" fill="#c9c9ca"/>
<path d="M790,1450.2 L1640,1755.6 L1640,1758.7 L790,1452.5 Z" fill="#c7c7c8"/>
</g>
<path d="M804.6,1310.6 L968.4,1285.1 L1821,1524 L1873,1530 L1703,1585 L1660,1670 L820,1388 L804.6,1310.6 Z" fill="#808184" />
<path d="M804.6,1310.6 L968.4,1285.1 L1821,1524 L1670,1569.4 L804.6,1310.6 Z" fill="url(#cFrame)" />
<path d="M845,1311.5 L968,1292.5 L1800,1527.5 L1668,1558 L845,1311.5 Z" fill="url(#cTop)" />
<path d="M804.6,1310.6 L1670,1569.4 L1670,1581.5 L804.6,1320 L804.6,1310.6 Z" fill="url(#cFront)" />
<path d="M820,1323.9 L1660,1577.7 L1660,1586.8 L820,1327.8 L820,1323.9 Z" fill="#7d7e81" />
<path d="M820,1327 L1660,1586 L1660,1596.4 L820,1334.8 L820,1327 Z" fill="#646568" />
<path d="M820,1334 L1660,1595.6 L1660,1610.4 L820,1344.8 L820,1334 Z" fill="url(#cRail)" />
<path d="M820,1344 L1660,1609.6 L1660,1669.7 L820,1386.8 L820,1344 Z" fill="url(#cBody)" />
<path d="M818,1385.3 L1640,1662.1 L1640,1672.5 L818,1399 L818,1385.3 Z" fill="#737477" />
<path d="M799.2,1338 C799.8,1336 799.9,1333.3 801,1332 C802.1,1330.7 804.1,1330.7 805.7,1330 L820,1327 L820,1386 L799.2,1380 L799.2,1338 Z" fill="#77787b" />
<path d="M818,1328 L821,1328 L821,1387 L818,1387 L818,1328 Z" fill="#55565a" />
<path d="M790,1380 L820,1383 L820,1400 L796,1392 L790,1392 L790,1380 Z" fill="#7d7e81" />
<path d="M777.5,1386 C777.8,1385 777.9,1383.7 778.5,1383 C779.1,1382.3 780.2,1382.3 781,1382 L799,1380.5 L797,1391 L796.5,1410 C798.3,1416.7 799.2,1423.7 802,1430 C804.8,1436.3 808.3,1442.7 813,1448 C817.7,1453.3 823.8,1458 830,1462 C836.2,1466 844.3,1469.6 850,1472 C855.7,1474.4 859.3,1475 864,1476.5 C859.3,1476.3 856.5,1477.1 850,1476 C843.5,1474.9 832.8,1473 825,1470 C817.2,1467 809.2,1463 803,1458 C796.8,1453 791.8,1446.3 788,1440 C784.2,1433.7 781.8,1427.5 780,1420 C778.2,1412.5 778.3,1403.3 777.5,1395 L777.5,1386 Z" fill="url(#cRimL)" />
<path d="M1670,1569.4 L1703,1574 L1703,1586 L1670,1581 L1670,1569.4 Z" fill="#88898c" />
<path d="M1655,1584 L1703,1590 L1703,1672 L1655,1667 L1655,1584 Z" fill="#8c8d90" />
<path d="M1655,1584 L1703,1590 L1703,1597 L1655,1593 L1655,1584 Z" fill="#6e6f72" />
<path d="M1670,1569.4 L1821,1524 L1873,1530 L1703,1574.5 L1670,1569.4 Z" fill="#98999b" />
<path d="M1629.3,1668.1 L1653.5,1663 L1677.7,1669.9 L1655.2,1676.8 L1629.3,1668.1 Z" fill="#a0a1a3" />
<path d="M1628,1672.7 L1628,1731.8 C1629.3,1737.1 1629.8,1742.5 1632,1747.8 C1634.2,1753.1 1637.5,1759 1641.5,1763.8 C1645.5,1768.6 1650,1772.5 1655.9,1776.5 C1661.8,1780.5 1668.7,1784.8 1676.7,1787.7 C1684.7,1790.6 1694.5,1792.6 1703.8,1794.1 C1713.1,1795.6 1723,1795.7 1732.6,1796.5 L1700,1740 L1660,1690 L1655.2,1676.8 L1629.3,1668.1 L1628,1672.7 Z" fill="url(#cRimR)" />
<path d="M1703,1574.5 L1873,1530 L1873,1543.3 L1860.4,1546 L1860.4,1556 L1874,1559 L1878.6,1570 L1878.6,1611.8 L1900,1614.6 L1900.3,1652 C1897.6,1665.3 1897.1,1678.6 1892.3,1691.9 C1887.5,1705.2 1880.4,1719.8 1871.6,1731.8 C1862.8,1743.8 1851.6,1755 1839.6,1763.8 C1827.6,1772.6 1813,1779.3 1799.7,1784.5 C1786.4,1789.7 1770.9,1792.9 1759.7,1794.9 C1748.5,1796.9 1740.6,1796.5 1732.6,1796.5 C1724.6,1796.5 1719.2,1796.4 1711.8,1794.9 C1704.3,1793.4 1695.4,1791.6 1687.9,1787.7 C1680.5,1783.8 1672.4,1778.5 1667.1,1771.8 C1661.8,1765.1 1658.3,1757.1 1655.9,1747.8 C1653.5,1738.5 1653.8,1726.5 1652.7,1715.8 L1653,1690 C1654.7,1686 1654,1681.2 1658,1678 C1662,1674.8 1670.5,1673.4 1676.7,1671.1 L1703,1665 L1703,1574.5 Z" fill="url(#cFaceR)" />
<path d="M1761.3,1589.9 L1800.8,1579.1 L1826,1591.7 L1782.9,1597 L1761.3,1589.9 Z" fill="#97989b" />
<path d="M1761.3,1589.9 L1782.9,1597 L1766.7,1643.8 L1741.5,1643.8 L1761.3,1589.9 Z" fill="#818285" />
<path d="M1741.5,1643.8 L1766.7,1643.8 L1782.9,1690.5 L1755.9,1679.7 L1741.5,1643.8 Z" fill="#737477" />
<path d="M1782.9,1597 L1826,1591.7 L1839.5,1625.8 L1820.6,1677.9 L1782.9,1690.5 L1766.7,1643.8 L1782.9,1597 Z" fill="#8d8e91" stroke="#9c9d9f" stroke-width="0.8"/>
<ellipse cx="1801.7" cy="1639.8" rx="23.8" ry="34.2" transform="rotate(8 1801.7 1639.8)" fill="url(#cHole)"/>
<ellipse cx="1698.3" cy="1613.2" rx="5.6" ry="9.5" transform="rotate(12 1698.3 1613.2)" fill="#e4e4e4" stroke="#6c6d70" stroke-width="1"/><circle cx="1698.3" cy="1613.2" r="1.8" fill="#77787b"/>
<ellipse cx="1860.4" cy="1569.9" rx="5.6" ry="9.5" transform="rotate(12 1860.4 1569.9)" fill="#e4e4e4" stroke="#6c6d70" stroke-width="1"/><circle cx="1860.4" cy="1569.9" r="1.8" fill="#77787b"/>
<ellipse cx="1863.2" cy="1658" rx="5.6" ry="9.5" transform="rotate(12 1863.2 1658)" fill="#e4e4e4" stroke="#6c6d70" stroke-width="1"/><circle cx="1863.2" cy="1658" r="1.8" fill="#77787b"/>
<ellipse cx="1692" cy="1704.1" rx="5.6" ry="9.5" transform="rotate(12 1692 1704.1)" fill="#e4e4e4" stroke="#6c6d70" stroke-width="1"/><circle cx="1692" cy="1704.1" r="1.8" fill="#77787b"/>
<path d="M1139,1386.8 L1212.4,1374.8 L1292,1397.3 L1221.4,1409.6 L1139,1386.8 Z" fill="#e6e6e7" stroke="#77787b" stroke-width="0.8"/>
<path d="M1226.4,1413.8 L1299.8,1399.6 L1389.6,1422.8 L1313.2,1438.5 L1226.4,1413.8 Z" fill="#e6e6e7" stroke="#77787b" stroke-width="0.8"/>
<ellipse cx="1120.2" cy="1284" rx="13.8" ry="4.7" fill="#9a9a9a"/><rect x="1109.5" y="1262" width="21.5" height="22" fill="url(#chrome)"/><ellipse cx="1120.2" cy="1262" rx="10.8" ry="3.4" fill="#e8e8e8" stroke="#8a8a8a" stroke-width="0.8"/><ellipse cx="1120.2" cy="1262" rx="4.7" ry="1.5" fill="#8c8c8c"/>
<path d="M1091.7,1300.6 L1110.6,1295.9 L1152.4,1300.6 L1152.4,1309.2 L1120.1,1313 L1116.3,1323.4 L1091.7,1309.2 L1091.7,1300.6 Z" fill="#77787b" />
<path d="M1091.7,1300.6 L1110.6,1295.9 L1152.4,1300.6 L1122,1304.4 L1091.7,1300.6 Z" fill="#8a8b8e" />
<path d="M1120.1,1283.6 L1137.2,1281.7 L1152.4,1285.5 L1152.4,1292.1 L1127.7,1290.6 L1120.1,1283.6 Z" fill="#7d7e81" />
<path d="M936.1,1331.9 L1093.5,1300.6 L1116.3,1307.3 L1116.3,1323.4 L943.7,1350 L934.2,1341.4 L936.1,1331.9 Z" fill="#8f9093" />
<path d="M936.1,1331.9 L1093.5,1300.6 L1115.4,1309.2 L944.6,1343.3 L936.1,1331.9 Z" fill="#7f8083" />
<path d="M926.6,1303.5 L987.3,1238 C989.8,1235.9 991.7,1233.2 994.9,1231.8 C998.1,1230.4 1002.5,1229.5 1006.3,1229.5 C1010.1,1229.5 1013.9,1230.5 1017.7,1231.8 C1021.5,1233.1 1025.2,1235.3 1029,1237.1 L1122,1282.6 L1120.1,1290.6 L1101.1,1289.2 L1034.7,1248.5 C1032.2,1247.5 1029.5,1245.6 1027.1,1245.6 C1024.7,1245.6 1022.7,1247.5 1020.5,1248.5 L976.9,1289.2 L953.2,1318.7 L941.8,1331.9 L922.8,1333.8 L896.2,1326.2 L926.6,1303.5 Z" fill="#88898c" />
<path d="M1029,1237.1 L1122,1282.6 L1120.1,1290.6 L1101.1,1289.2 L1034.7,1248.5 C1032.2,1247.5 1029.5,1245.6 1027.1,1245.6 C1024.7,1245.6 1022.7,1247.5 1020.5,1248.5 L1025.2,1240.9 L1029,1237.1 Z" fill="#77787b" />
<path d="M881.1,1332.9 L896.2,1326.2 L926.6,1330 L936.1,1333.8 L922.8,1341.4 L892.4,1341.4 L881.1,1332.9 Z" fill="#808184" />
<path d="M881.1,1332.9 L892.4,1341.4 L922.8,1341.4 L922.8,1344.3 L892.4,1344.3 L881.1,1335.7 L881.1,1332.9 Z" fill="#6a6b6e" />
<path d="M920.9,1338.6 L936.1,1333.8 L943.7,1336.1 L943.7,1368 L934.2,1369.9 L920.9,1358.5 L920.9,1338.6 Z" fill="#77787b" />
<path d="M934.2,1341.4 L943.7,1336.1 L943.7,1368 L934.2,1369.9 L934.2,1341.4 Z" fill="#696a6d" />
<ellipse cx="904.8" cy="1316" rx="16.8" ry="6" fill="#9a9a9a"/><rect x="891" y="1294" width="27.5" height="22" fill="url(#chrome)"/><ellipse cx="904.8" cy="1294" rx="13.8" ry="4.4" fill="#e8e8e8" stroke="#8a8a8a" stroke-width="0.8"/><ellipse cx="904.8" cy="1294" rx="6" ry="1.9" fill="#8c8c8c"/>
<rect x="892.4" y="1341.4" width="13.5" height="11.5" fill="#d4d4d4"/>
<rect x="898" y="1352.5" width="13" height="23" fill="url(#chrome)"/>
<ellipse cx="1665.8" cy="1424" rx="14.8" ry="5.2" fill="#9a9a9a"/><rect x="1654" y="1397" width="23.5" height="27" fill="url(#chrome)"/><ellipse cx="1665.8" cy="1397" rx="11.8" ry="3.8" fill="#e8e8e8" stroke="#8a8a8a" stroke-width="0.8"/><ellipse cx="1665.8" cy="1397" rx="5.2" ry="1.6" fill="#8c8c8c"/>
<path d="M1630.4,1443 L1645.6,1437.6 L1706.3,1442 L1706.3,1448.7 L1672.2,1453.4 L1668.4,1471.4 L1630.4,1456.2 L1630.4,1443 Z" fill="#77787b" />
<path d="M1630.4,1443 L1645.6,1437.6 L1706.3,1442 L1676,1445.8 L1630.4,1443 Z" fill="#8a8b8e" />
<path d="M1658.9,1425.9 L1691.1,1422.1 L1706.3,1425.5 L1706.3,1430.6 L1664.6,1431.6 L1658.9,1425.9 Z" fill="#7d7e81" />
<path d="M1471.1,1494.2 L1486.2,1490.4 L1630.4,1443 L1668.4,1453.4 L1668.4,1471.4 L1482.4,1511.3 L1471.1,1501.8 L1471.1,1494.2 Z" fill="#8f9093" />
<path d="M1486.2,1490.4 L1630.4,1443 L1667.4,1458.1 L1483.4,1503.7 L1486.2,1490.4 Z" fill="#7f8083" />
<path d="M1457.8,1456.2 L1524.2,1370.9 C1526.7,1368.4 1528.6,1365 1531.8,1363.3 C1535,1361.5 1538.2,1360.7 1543.2,1360.4 C1548.2,1360.2 1555.8,1360.4 1562.1,1361.8 C1568.4,1363.2 1574.8,1366.6 1581.1,1369 L1660.8,1425.9 L1658.9,1433.5 L1645.6,1439.2 L1577.3,1385.1 C1574.1,1384.5 1570.6,1382.7 1567.8,1383.2 C1565,1383.7 1562.7,1386.3 1560.2,1387.9 L1520.4,1431.6 L1501.4,1463.8 L1486.2,1490.4 L1471.1,1494.2 L1442.6,1486.6 L1457.8,1456.2 Z" fill="#88898c" />
<path d="M1581.1,1369 L1660.8,1425.9 L1658.9,1433.5 L1645.6,1439.2 L1577.3,1385.1 C1574.1,1384.5 1570.6,1382.7 1567.8,1383.2 C1565,1383.7 1562.7,1386.3 1560.2,1387.9 L1569.7,1374.7 L1581.1,1369 Z" fill="#77787b" />
<path d="M1400.9,1473.3 L1442.6,1467.6 L1471.1,1482.8 L1471.1,1494.2 L1455.9,1501.8 L1423.6,1499.9 L1400.9,1473.3 Z" fill="#808184" />
<path d="M1400.9,1473.3 L1423.6,1499.9 L1455.9,1501.8 L1455.9,1504.6 L1423.6,1502.7 L1400.9,1476.2 L1400.9,1473.3 Z" fill="#6a6b6e" />
<path d="M1455.9,1501.8 L1471.1,1494.2 L1482.4,1499.9 L1482.4,1535.9 L1473,1535 L1455.9,1517 L1455.9,1501.8 Z" fill="#77787b" />
<path d="M1473,1501.8 L1482.4,1499.9 L1482.4,1535.9 L1473,1535 L1473,1501.8 Z" fill="#696a6d" />
<ellipse cx="1438" cy="1468" rx="19.5" ry="7.3" fill="#9a9a9a"/><rect x="1421.5" y="1443" width="33" height="25" fill="url(#chrome)"/><ellipse cx="1438" cy="1443" rx="16.5" ry="5.3" fill="#e8e8e8" stroke="#8a8a8a" stroke-width="0.8"/><ellipse cx="1438" cy="1443" rx="7.3" ry="2.3" fill="#8c8c8c"/>
<rect x="1421.7" y="1503.7" width="19" height="13.5" fill="#d4d4d4"/>
<rect x="1428.4" y="1517" width="14.2" height="26.5" fill="url(#chrome)"/>
<ellipse cx="816" cy="1393.6" rx="6.5" ry="4.5" fill="#8a8b8e"/><ellipse cx="815.5" cy="1393.1" rx="3.6" ry="2.8" fill="#f2f2f2"/>
<ellipse cx="939" cy="1434.5" rx="6.5" ry="4.5" fill="#8a8b8e"/><ellipse cx="938.5" cy="1434" rx="3.6" ry="2.8" fill="#f2f2f2"/>
<ellipse cx="1082" cy="1482" rx="6.5" ry="4.5" fill="#8a8b8e"/><ellipse cx="1081.5" cy="1481.5" rx="3.6" ry="2.8" fill="#f2f2f2"/>
<ellipse cx="1240" cy="1534.6" rx="6.5" ry="4.5" fill="#8a8b8e"/><ellipse cx="1239.5" cy="1534.1" rx="3.6" ry="2.8" fill="#f2f2f2"/>
<ellipse cx="1435" cy="1599.5" rx="6.5" ry="4.5" fill="#8a8b8e"/><ellipse cx="1434.5" cy="1599" rx="3.6" ry="2.8" fill="#f2f2f2"/>
<ellipse cx="1622" cy="1661.7" rx="6.5" ry="4.5" fill="#8a8b8e"/><ellipse cx="1621.5" cy="1661.2" rx="3.6" ry="2.8" fill="#f2f2f2"/>
</g>
</svg>
</body>
</html>
